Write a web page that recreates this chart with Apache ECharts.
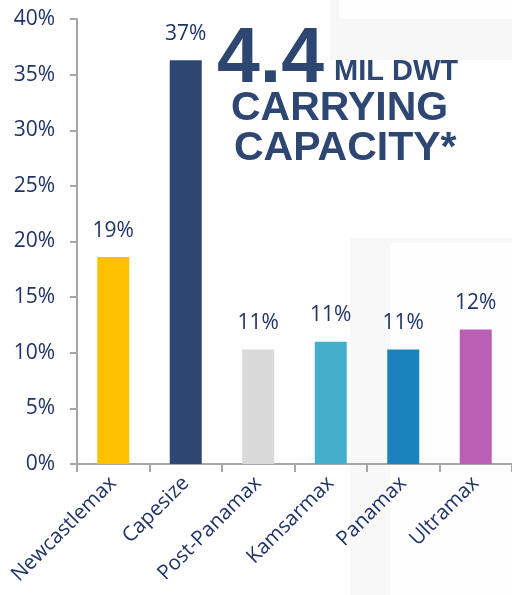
<!DOCTYPE html>
<html>
<head>
<meta charset="utf-8">
<script src="https://cdn.jsdelivr.net/npm/echarts@6/dist/echarts.min.js"></script>
<style>
    html, body { margin: 0; padding: 0; background: #ffffff; }
    #fleetChart { width: 512px; height: 595px; }
</style>
</head>
<body>
<div id="fleetChart"></div>
<script>
// vessel classes and share of carrying capacity (%)
const categories = ['Newcastlemax', 'Capesize', 'Post-Panamax', 'Kamsarmax', 'Panamax', 'Ultramax']
const shareValues = [18.6, 36.3, 10.3, 11.0, 10.3, 12.1]
const shareLabels = ['19%', '37%', '11%', '11%', '11%', '12%']
const barColors = ['#FFC000', '#2E4672', '#D9D9D9', '#43AFCB', '#1A83BE', '#BA5FB3']
const yTicks = [0, 5, 10, 15, 20, 25, 30, 35, 40]

const navy = '#1F3366'
const titleColor = '#2E4672'
const axisGrey = '#A6A6A6'
const font = "'Open Sans', 'Noto Sans', sans-serif"

const chart = echarts.init(document.getElementById('fleetChart'), null, { renderer: 'canvas' })

chart.setOption({
    animation: false,
    backgroundColor: '#ffffff',
    textStyle: { fontFamily: font },
    grid: {
        left: 77,
        right: -4,
        top: 19,
        bottom: 131,
    },
    graphic: {
        elements: [
            // faint slide artefacts in the background
            { type: 'rect', z: -10, shape: { x: 330, y: 0, width: 182, height: 60 }, style: { fill: '#F7F7F7' } },
            { type: 'rect', z: -9, shape: { x: 339, y: 0, width: 173, height: 19 }, style: { fill: '#FEFEFE' } },
            { type: 'rect', z: -10, shape: { x: 350, y: 238, width: 162, height: 357 }, style: { fill: '#F8F8F8' } },
            { type: 'rect', z: -9, shape: { x: 390, y: 243, width: 122, height: 352 }, style: { fill: '#FEFEFE' } },
            // headline
            { type: 'text', z: 100, left: 217, top: 22, style: { text: '4.4', fill: titleColor, font: 'bold 77px "Liberation Sans", Arial, sans-serif' } },
            { type: 'text', z: 100, left: 334, top: 57, style: { text: 'MIL DWT', fill: titleColor, font: 'bold 29px "Liberation Sans", Arial, sans-serif' } },
            { type: 'text', z: 100, left: 231, top: 88, style: { text: 'CARRYING', fill: titleColor, font: 'bold 41px "Liberation Sans", Arial, sans-serif' } },
            { type: 'text', z: 100, left: 234, top: 128, style: { text: 'CAPACITY*', fill: titleColor, font: 'bold 41px "Liberation Sans", Arial, sans-serif' } },
        ]
    },
    xAxis: {
        type: 'category',
        data: categories,
        axisLine: { lineStyle: { color: axisGrey, width: 2 } },
        axisTick: { show: true, length: 8, lineStyle: { color: axisGrey, width: 2 } },
        axisLabel: {
            rotate: 45,
            margin: 16,
            color: navy,
            fontFamily: font,
            fontSize: 20.5,
            interval: 0,
        },
    },
    yAxis: {
        type: 'value',
        min: yTicks[0],
        max: yTicks[yTicks.length - 1],
        interval: yTicks[1] - yTicks[0],
        splitLine: { show: false },
        axisLine: { show: true, lineStyle: { color: axisGrey, width: 2 } },
        axisTick: { show: true, length: 7, lineStyle: { color: axisGrey, width: 2 } },
        axisLabel: {
            formatter: '{value}%',
            color: navy,
            fontFamily: font,
            fontSize: 21,
            margin: 22,
        },
    },
    series: [{
        type: 'bar',
        barWidth: 32,
        data: shareValues.map((v, i) => ({ value: v, itemStyle: { color: barColors[i] } })),
        label: {
            show: true,
            position: 'top',
            distance: 16,
            color: navy,
            fontFamily: font,
            fontSize: 21,
            formatter: (p) => shareLabels[p.dataIndex],
        },
    }],
})
</script>
</body>
</html>
